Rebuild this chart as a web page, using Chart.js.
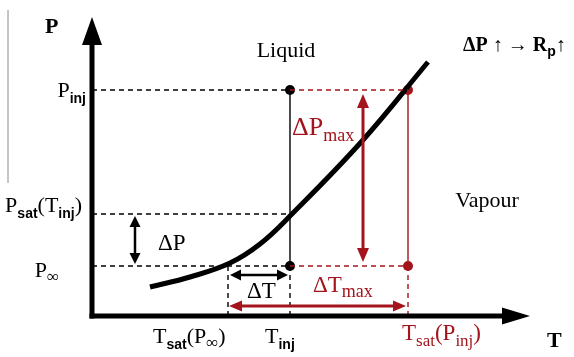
<!DOCTYPE html>
<html>
<head>
<meta charset="utf-8">
<script src="https://cdn.jsdelivr.net/npm/chart.js@4.4.1/dist/chart.umd.min.js"></script>
<style>
  html, body { margin: 0; padding: 0; background: #fff; }
  #wrap { width: 574px; height: 357px; position: relative; }
</style>
</head>
<body>
<div id="wrap"><canvas id="myChart"></canvas></div>
<script>
// saturation curve (arbitrary units, origin = axes corner)
const curveT = [58, 98, 138, 168, 198, 271, 336];
const curveP = [29, 39, 53, 72, 100, 176, 254];

// pressure levels
const pInj = 226;
const pSat = 102;
const pInf = 50;

// temperature levels
const tSatInf = 136;
const tInj = 198;
const tSatInj = 316;

// where the small arrows sit
const dPAt = 43;      // T of the dP arrow
const dTAt = 41;      // P of the dT arrow
const dTmaxAt = 10;   // P of the dTmax arrow
const dPmaxAt = 271;  // T of the dPmax arrow

const red = '#a3141c';
const serif = '"Liberation Serif", "DejaVu Serif", serif';
const sans = '"Liberation Sans", Arial, sans-serif';

function seg(x1, y1, x2, y2, color, width, dash) {
  return {
    data: [{x: x1, y: y1}, {x: x2, y: y2}],
    showLine: true,
    borderColor: color,
    borderWidth: width,
    borderDash: dash || [],
    pointRadius: 0,
    fill: false
  };
}

const dash = [5, 4];
const datasets = [
  seg(0, pInj, tInj, pInj, '#000', 1.4, dash),
  seg(tInj, pInj, tSatInj, pInj, red, 1.4, dash),
  seg(0, pSat, tInj, pSat, '#000', 1.4, dash),
  seg(0, pInf, tInj, pInf, '#000', 1.4, dash),
  seg(tInj, pInf, tSatInj, pInf, red, 1.4, dash),
  seg(tInj, pInj, tInj, pInf, '#000', 1.4),
  seg(tInj, pInf, tInj, 0, '#000', 1.4, dash),
  seg(tSatInj, pInj, tSatInj, pInf, red, 1.4),
  seg(tSatInj, pInf, tSatInj, 0, red, 1.4, dash),
  seg(tSatInf, pInf, tSatInf, 0, '#000', 1.4, dash),
  {
    data: curveT.map((t, i) => ({x: t, y: curveP[i]})),
    showLine: true,
    borderColor: '#000',
    borderWidth: 5,
    borderCapStyle: 'butt',
    tension: 0.4,
    pointRadius: 0,
    fill: false
  },
  {
    data: [{x: tInj, y: pInj}, {x: tInj, y: pInf}],
    showLine: false,
    pointRadius: 5,
    pointBackgroundColor: '#000',
    pointBorderWidth: 0
  },
  {
    data: [{x: tSatInj, y: pInj}, {x: tSatInj, y: pInf}],
    showLine: false,
    pointRadius: 5,
    pointBackgroundColor: red,
    pointBorderWidth: 0
  }
];

function head(c, x, y, ang, len, half, color) {
  c.save();
  c.translate(x, y);
  c.rotate(ang);
  c.beginPath();
  c.moveTo(0, 0);
  c.lineTo(-len, -half);
  c.lineTo(-len, half);
  c.closePath();
  c.fillStyle = color;
  c.fill();
  c.restore();
}

function arrow(c, x1, y1, x2, y2, color, w, len, half, both) {
  const ang = Math.atan2(y2 - y1, x2 - x1);
  const dx = Math.cos(ang) * len * 0.8, dy = Math.sin(ang) * len * 0.8;
  c.beginPath();
  c.moveTo(both ? x1 + dx : x1, both ? y1 + dy : y1);
  c.lineTo(x2 - dx, y2 - dy);
  c.strokeStyle = color;
  c.lineWidth = w;
  c.setLineDash([]);
  c.stroke();
  head(c, x2, y2, ang, len, half, color);
  if (both) head(c, x1, y1, ang + Math.PI, len, half, color);
}

function rich(c, x, y, parts, align, color) {
  let w = 0;
  parts.forEach(p => { c.font = p.f; p.w = c.measureText(p.t).width; w += p.w; });
  let cx = align === 'right' ? x - w : align === 'center' ? x - w / 2 : x;
  parts.forEach(p => {
    c.font = p.f;
    c.fillStyle = color || '#000';
    c.fillText(p.t, cx, y + (p.dy || 0));
    cx += p.w;
  });
}

const big = '22px ' + serif;
const sub = 'bold 14px ' + sans;

const schemePlugin = {
  id: 'scheme',
  afterDatasetsDraw(chart) {
    const c = chart.ctx;
    const xs = chart.scales.x, ys = chart.scales.y;
    const X = v => xs.getPixelForValue(v);
    const Y = v => ys.getPixelForValue(v);
    c.save();
    c.textBaseline = 'alphabetic';

    // thin grey rule at the left edge
    c.beginPath();
    c.moveTo(8, 10);
    c.lineTo(8, 183);
    c.strokeStyle = '#8a8a8a';
    c.lineWidth = 1;
    c.stroke();

    // axes
    arrow(c, X(0), Y(0) + 2.5, X(0), Y(299), '#000', 5, 28, 10, false);
    arrow(c, X(-2.5), Y(0), X(438), Y(0), '#000', 5, 28, 8.5, false);

    // dP, dT arrows
    arrow(c, X(dPAt), Y(pSat) + 2, X(dPAt), Y(pInf) - 2, '#000', 2.5, 11, 5.5, true);
    arrow(c, X(tSatInf) + 2, Y(dTAt), X(tInj) - 2, Y(dTAt), '#000', 2.5, 11, 5.5, true);
    arrow(c, X(tSatInf) + 1, Y(dTmaxAt), X(tSatInj) - 2, Y(dTmaxAt), red, 3, 13, 5.5, true);
    arrow(c, X(dPmaxAt), Y(pInj) + 4, X(dPmaxAt), Y(pInf) - 4, red, 3, 14, 6, true);

    // axis titles
    rich(c, 45, 33, [{t: 'P', f: 'bold 22px ' + serif}], 'left');
    rich(c, 547, 347, [{t: 'T', f: 'bold 22px ' + serif}], 'left');

    // P tick labels
    rich(c, X(0) - 6, Y(pInj) + 7, [{t: 'P', f: big}, {t: 'inj', f: sub, dy: 6}], 'right');
    rich(c, X(0) - 10, Y(pSat) - 2, [
      {t: 'P', f: big}, {t: 'sat', f: sub, dy: 6}, {t: '(T', f: big},
      {t: 'inj', f: sub, dy: 6}, {t: ')', f: big}], 'right');
    rich(c, X(0) - 33, Y(pInf) + 11, [{t: 'P', f: big}, {t: '∞', f: '17px ' + serif, dy: 5}], 'right');

    // T tick labels
    rich(c, X(tSatInf) - 75, Y(0) + 27, [
      {t: 'T', f: big}, {t: 'sat', f: sub, dy: 6}, {t: '(P', f: big},
      {t: '∞', f: '17px ' + serif, dy: 5}, {t: ')', f: big}], 'left');
    rich(c, X(tInj) - 25, Y(0) + 27, [{t: 'T', f: big}, {t: 'inj', f: sub, dy: 6}], 'left');
    rich(c, X(tSatInj) - 6, Y(0) + 24, [
      {t: 'T', f: '23px ' + serif}, {t: 'sat', f: '17px ' + serif, dy: 6}, {t: '(P', f: '23px ' + serif},
      {t: 'inj', f: '17px ' + serif, dy: 6}, {t: ')', f: '23px ' + serif}], 'left', red);

    // region names
    rich(c, 286, 57, [{t: 'Liquid', f: big}], 'center');
    rich(c, 487, 207, [{t: 'Vapour', f: big}], 'center');

    // deltas
    rich(c, X(dPAt) + 23, Y(pInf) - 16, [{t: 'ΔP', f: '23px ' + serif}], 'left');
    rich(c, X(tSatInf) + 19, Y(dTAt) + 23, [{t: 'ΔT', f: '23px ' + serif}], 'left');
    rich(c, X(dPmaxAt) - 71, 135, [{t: 'ΔP', f: '26px ' + serif}, {t: 'max', f: '18px ' + serif, dy: 6}], 'left', red);
    rich(c, 313, Y(pInf) + 26, [{t: 'ΔT', f: '23px ' + serif}, {t: 'max', f: '18px ' + serif, dy: 5}], 'left', red);

    // note at top right
    rich(c, 463, 51, [
      {t: 'ΔP ↑ → R', f: 'bold 20px ' + serif},
      {t: 'p', f: 'bold 14px ' + sans, dy: 5},
      {t: '↑', f: 'bold 20px ' + serif}], 'left');

    c.restore();
  }
};

new Chart(document.getElementById('myChart'), {
  type: 'scatter',
  data: {datasets: datasets},
  options: {
    responsive: true,
    maintainAspectRatio: false,
    animation: false,
    events: [],
    layout: {padding: 0, autoPadding: false},
    plugins: {legend: {display: false}, tooltip: {enabled: false}},
    scales: {
      x: {type: 'linear', display: false, min: -92, max: 482},
      y: {type: 'linear', display: false, min: -41, max: 316}
    }
  },
  plugins: [schemePlugin]
});
</script>
</body>
</html>
